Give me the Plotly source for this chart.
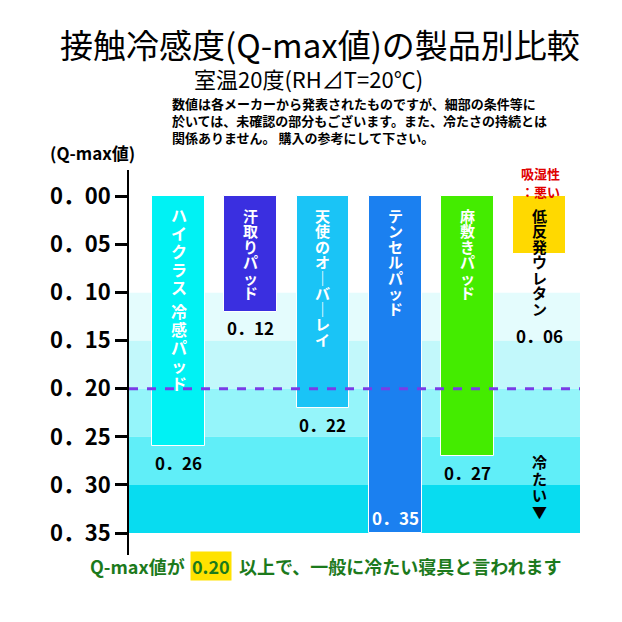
import plotly.graph_objects as go

# ---- data ----
products = ["ハイクラス 冷感パッド", "汗取りパッド", "天使のオーバーレイ", "テンセルパッド", "麻敷きパッド", "低反発ウレタン"]
qmax = [0.26, 0.12, 0.22, 0.35, 0.27, 0.06]
bar_colors = ["#00f2f4", "#3a2fe0", "#1ac4f6", "#1b80f0", "#44ec00", "#ffd900"]
text_colors = ["white", "white", "white", "white", "white", "black"]
tick_vals = [0.00, 0.05, 0.10, 0.15, 0.20, 0.25, 0.30, 0.35]
band_edges = [0.10, 0.15, 0.20, 0.25, 0.30, 0.35]
band_colors = ["#e4fcfd", "#c2f8fb", "#95f5fa", "#60eef8", "#08dcf0"]
threshold = 0.20

FONT = "Noto Sans CJK JP"
W, H = 622, 622
L, R, T, B = 129, 580, 170, 555
ZERO_PX = 196.5
PX_PER_UNIT = 962


def px(x):
    return (x - L) / (R - L)


def py(y):
    return (B - y) / (B - T)


def fmt(v):
    return f"{v:.2f}".replace(".", "．")


def txt(x, y, text, size, color="black", bold=True, xanchor="center", **kw):
    return dict(x=px(x), y=py(y), xref="paper", yref="paper", text=text, showarrow=False,
                xanchor=xanchor, yanchor="middle",
                font=dict(family=FONT, size=size, color=color, weight="bold" if bold else "normal"),
                **kw)


fig = go.Figure()
fig.add_trace(go.Bar(
    x=list(range(len(products))), y=qmax, base=0, width=0.73,
    marker=dict(color=bar_colors, line=dict(color="white", width=1)),
    hoverinfo="skip", showlegend=False,
))

shapes = []
for i, c in enumerate(band_colors):
    shapes.append(dict(type="rect", xref="paper", x0=0, x1=1, yref="y",
                       y0=band_edges[i], y1=band_edges[i + 1],
                       fillcolor=c, line=dict(width=0), layer="below"))
shapes.append(dict(type="line", xref="paper", x0=0, x1=1, yref="y",
                   y0=threshold, y1=threshold,
                   line=dict(color="#7a3ce6", width=3, dash="dash"), layer="above"))

ann = []
# vertical (tategaki) bar labels, one glyph per annotation
for i, name in enumerate(products):
    step = 18 if i == 0 else 15.5
    size = 16 if i == 0 else 15
    off = 19
    k = 0.0
    for ch in name:
        if ch == " ":
            k += 0.3
            continue
        if ch == "ー":
            ch = "｜"
        ann.append(dict(x=i, y=0, xref="x", yref="y", text=ch, showarrow=False,
                        yshift=-(off + k * step), xanchor="center", yanchor="middle",
                        font=dict(family=FONT, size=size, color=text_colors[i], weight="bold")))
        k += 1
    # value label
    v = qmax[i]
    lab = dict(x=i, xref="x", yref="y", text=fmt(v), showarrow=False,
               xanchor="center", yanchor="middle")
    if v == max(qmax):
        lab.update(y=v, yshift=16, font=dict(family=FONT, size=17, color="white", weight="bold"))
    elif v < 0.1:
        lab.update(y=0, yshift=-(off + k * step + 12),
                   font=dict(family=FONT, size=17, color="black", weight="bold"))
    else:
        lab.update(y=v, yshift=-16, font=dict(family=FONT, size=17, color="black", weight="bold"))
    ann.append(lab)

# 冷たい▼
for k, ch in enumerate("冷たい▼"):
    ann.append(dict(x=5, y=(462 - ZERO_PX) / PX_PER_UNIT, xref="x", yref="y", text=ch, showarrow=False,
                    xanchor="center", yanchor="middle",
                    yshift=-16.5 * k, font=dict(family=FONT, size=15, color="black", weight="bold")))

# red note
ann.append(txt(540, 173, "吸湿性", 13, "#e00000"))
ann.append(txt(540, 191, "：悪い", 13, "#e00000"))

# titles
ann.append(txt(320, 44, "接触冷感度(Q-max値)の製品別比較", 33, bold=False))
ann.append(txt(308, 78, "室温20度(RH⊿T=20℃)", 22, bold=False))
ann.append(txt(170, 120.5,
               "数値は各メーカーから発表されたものですが、細部の条件等に<br>"
               "於いては、未確認の部分もございます。また、冷たさの持続とは<br>"
               "関係ありません。 購入の参考にして下さい。",
               13, xanchor="left", align="left"))
ann.append(txt(92, 152, "(Q-max値)", 17))

# bottom message
green = "#1c7a1c"
ann.append(txt(187, 566, "Q-max値が", 18, green, xanchor="right"))
ann.append(txt(210.5, 566, f"{threshold:.2f}", 18, green, bgcolor="#ffe200", borderpad=1))
ann.append(txt(237, 566, "以上で、一般に冷たい寝具と言われます", 18, green, xanchor="left"))

top = -(ZERO_PX - T) / PX_PER_UNIT
bottom = 0.35 + (B - 533) / PX_PER_UNIT

fig.update_layout(
    width=W, height=H,
    margin=dict(l=L, r=W - R, t=T, b=H - B),
    paper_bgcolor="white", plot_bgcolor="white",
    shapes=shapes, annotations=ann, bargap=0,
    xaxis=dict(range=[-0.686, 5.56], showticklabels=False, showline=False, showgrid=False,
               zeroline=False, ticks=""),
    yaxis=dict(range=[bottom, top], tickvals=tick_vals, ticktext=[fmt(v) for v in tick_vals],
               ticks="outside", ticklen=12, tickwidth=3, tickcolor="black",
               showline=True, linecolor="black", linewidth=1.5, showgrid=False, zeroline=False,
               tickfont=dict(family=FONT, size=22, color="black", weight="bold")),
    font=dict(family=FONT),
)

fig.write_html("out.html")
